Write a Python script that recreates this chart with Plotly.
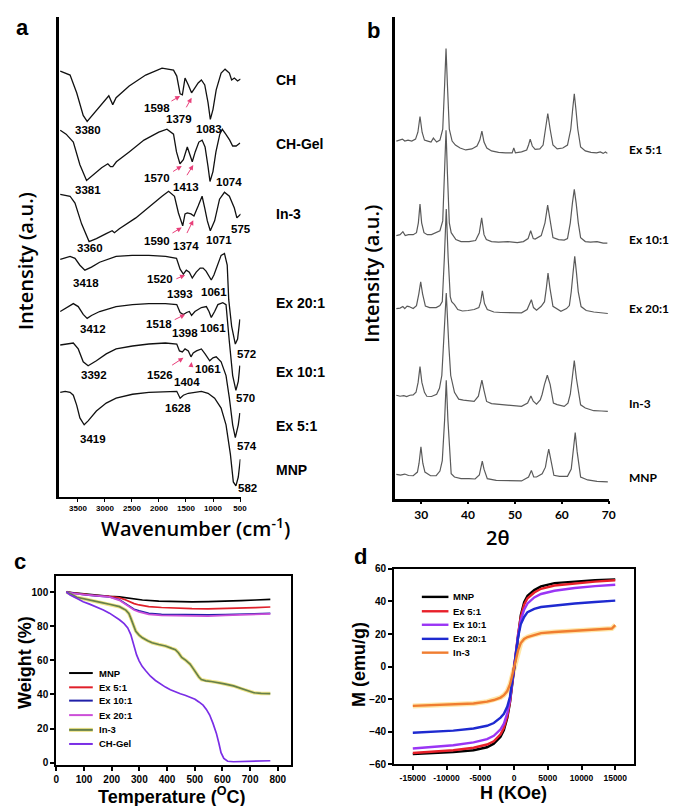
import plotly.graph_objects as go

# ---------------- DATA ----------------
# Panel a: FTIR spectra (wavenumber cm-1, stacked intensity a.u.)
ftir_names = ["CH", "CH-Gel", "In-3", "Ex 20:1", "Ex 10:1", "Ex 5:1", "MNP"]
ftir_CH_w = [3828, 3646, 3524, 3403, 3330, 3159, 3008, 2929, 2856, 2794, 2552, 2247, 1944, 1731, 1671, 1609, 1567, 1518, 1457, 1397, 1335, 1275, 1215, 1153, 1092, 1050, 1001, 941, 850, 777, 697, 655, 605, 545, 490]
ftir_CH_i = [432, 428, 410, 387, 381, 392, 402, 407, 398, 405, 417, 428, 435, 433, 427, 409, 408, 425, 418, 410, 415, 420, 423, 418, 400, 383, 393, 413, 430, 434, 430, 423, 425, 422, 424]
ftir_CHGel_w = [3828, 3719, 3586, 3464, 3341, 3208, 3062, 2947, 2898, 2856, 2789, 2552, 2278, 2004, 1853, 1731, 1676, 1612, 1549, 1476, 1430, 1384, 1330, 1262, 1202, 1147, 1092, 1056, 1001, 946, 874, 828, 764, 691, 636, 572, 499]
ftir_CHGel_i = [372, 368, 360, 337, 321, 327, 334, 338, 335, 335, 340, 350, 362, 370, 373, 368, 350, 338, 342, 355, 348, 340, 350, 360, 362, 355, 335, 320, 330, 350, 368, 373, 368, 362, 356, 356, 359]
ftir_In3_w = [3828, 3646, 3555, 3433, 3294, 3159, 2977, 2867, 2825, 2734, 2429, 2127, 1944, 1822, 1713, 1640, 1561, 1518, 1476, 1408, 1353, 1275, 1202, 1153, 1105, 1050, 970, 879, 788, 697, 605, 558, 485]
ftir_In3_i = [307, 305, 298, 277, 259, 262, 267, 270, 268, 272, 283, 297, 305, 310, 305, 288, 275, 287, 288, 287, 285, 295, 305, 293, 280, 270, 280, 302, 309, 305, 293, 283, 287]
ftir_Ex20_w = [3828, 3646, 3555, 3464, 3372, 3250, 3099, 2953, 2794, 2497, 2187, 1877, 1676, 1609, 1549, 1494, 1439, 1384, 1311, 1238, 1184, 1129, 1074, 1032, 983, 941, 850, 788, 737, 709, 655, 587, 545, 503]
ftir_Ex20_i = [241, 244, 242, 235, 230, 233, 238, 241, 244, 245, 245, 244, 242, 231, 226, 230, 228, 222, 228, 232, 232, 229, 223, 220, 225, 232, 245, 247, 235, 200, 173, 155, 160, 180]
ftir_Ex10_w = [3828, 3706, 3586, 3495, 3403, 3330, 3250, 3099, 2794, 2491, 2187, 1882, 1671, 1609, 1549, 1489, 1439, 1397, 1335, 1215, 1123, 1074, 1032, 970, 910, 819, 759, 697, 636, 576, 532, 503]
ftir_Ex10_i = [188, 192, 196, 193, 185, 181, 184, 188, 193, 195, 196, 196, 195, 187, 185, 187, 188, 184, 188, 192, 193, 188, 182, 188, 195, 197, 195, 157, 123, 108, 117, 133]
ftir_Ex5_w = [3828, 3706, 3586, 3495, 3403, 3312, 3159, 2977, 2794, 2491, 2187, 1882, 1671, 1621, 1567, 1518, 1457, 1408, 1366, 1306, 1215, 1147, 1061, 1001, 941, 850, 759, 697, 636, 587, 532, 503]
ftir_Ex5_i = [154, 155, 156, 150, 137, 133, 138, 145, 150, 153, 155, 156, 155, 148, 147, 150, 148, 142, 146, 148, 150, 145, 138, 141, 142, 137, 123, 100, 73, 60, 73, 85]
ftir_MNP_w = [3828, 3737, 3646, 3586, 3524, 3464, 3385, 3312, 3159, 2977, 2794, 2491, 2187, 1882, 1671, 1609, 1549, 1457, 1335, 1215, 1092, 970, 850, 759, 678, 624, 576, 532, 495]
ftir_MNP_i = [106, 107, 106, 103, 93, 80, 73, 77, 87, 95, 100, 104, 106, 107, 107, 100, 103, 105, 106, 107, 105, 100, 90, 73, 43, 15, 11, 20, 38]
ftir_ticks = [3500, 3000, 2500, 2000, 1500, 1000, 500]

# Panel b: XRD patterns (2theta, stacked intensity a.u.)
xrd_names = ["Ex 5:1", "Ex 10:1", "Ex 20:1", "In-3", "MNP"]
xrd_Ex5_t = [24.7, 25.4, 26.0, 26.5, 27.2, 28.0, 28.8, 29.3, 29.75, 30.2, 30.7, 31.4, 32.1, 32.6, 33.3, 34.0, 34.6, 35.0, 35.3, 35.6, 36.0, 36.6, 37.3, 38.3, 39.5, 40.8, 41.9, 42.5, 42.95, 43.4, 44.0, 45.0, 46.5, 48.0, 49.4, 49.75, 50.1, 51.4, 52.5, 52.9, 53.25, 53.7, 54.3, 55.3, 56.0, 56.5, 57.0, 57.5, 58.1, 59.0, 60.2, 61.2, 61.9, 62.3, 62.65, 63.0, 63.4, 64.0, 65.0, 66.2, 67.4, 68.2, 68.8, 69.3, 69.7]
xrd_Ex5_i = [363, 364, 365, 363, 364, 363, 365, 372, 388, 372, 364, 363, 362, 366, 362, 364, 375, 420, 457, 420, 375, 363, 359, 356, 354, 355, 358, 364, 373, 362, 356, 353, 351.5, 351, 351, 356, 351, 352, 354, 359, 365, 358, 354.5, 355, 359, 375, 391, 375, 359, 355, 356, 359, 375, 395, 411, 395, 375, 357, 353, 351.5, 351, 352, 350.5, 352, 350.5]
xrd_Ex10_t = [24.7, 25.5, 26.1, 26.6, 27.3, 28.3, 29.0, 29.4, 29.75, 30.1, 30.6, 31.3, 32.2, 33.2, 34.0, 34.6, 35.0, 35.3, 35.6, 36.0, 36.4, 37.4, 38.5, 40.2, 41.6, 42.4, 42.9, 43.4, 43.9, 45.0, 46.5, 48.5, 50.5, 51.8, 52.8, 53.35, 53.9, 54.3, 55.6, 56.4, 56.97, 57.5, 58.1, 59.3, 60.5, 61.2, 61.8, 62.25, 62.65, 63.05, 63.5, 64.0, 65.0, 66.1, 67.5, 68.8, 69.7]
xrd_Ex10_i = [267, 268, 271, 267, 268, 268, 270, 280, 299, 280, 270, 268, 268, 270, 272, 282, 330, 374, 330, 280, 270, 263, 261, 261, 262, 270, 285, 268, 263, 261, 260.5, 261, 260, 261, 264, 272, 264, 263.5, 267, 280, 298, 280, 265, 263, 262.5, 264, 280, 300, 314, 300, 280, 265, 261, 260.5, 261, 259.5, 259.5]
xrd_Ex20_t = [24.7, 25.5, 26.1, 26.5, 27.0, 27.4, 28.3, 29.0, 29.5, 29.9, 30.3, 30.9, 31.8, 33.2, 34.0, 34.5, 34.95, 35.35, 35.75, 36.2, 36.5, 37.1, 37.8, 38.8, 40.0, 41.3, 42.3, 42.7, 43.05, 43.5, 44.1, 45.5, 47.0, 49.0, 51.4, 52.6, 53.1, 53.5, 53.95, 54.6, 55.6, 56.3, 56.7, 57.05, 57.45, 58.1, 59.8, 61.0, 61.6, 62.0, 62.4, 62.75, 63.1, 63.5, 64.1, 65.2, 66.8, 68.0, 69.0, 69.8]
xrd_Ex20_i = [193, 193.5, 195, 193, 195.5, 195, 193, 196, 208, 220, 208, 195.5, 194, 194, 196, 200, 245, 294, 245, 205, 200, 197, 192, 190.5, 191, 192, 194, 200, 211, 198, 192, 189.5, 189, 189, 188.7, 192, 198, 202, 194, 191.3, 195.3, 200, 214, 229, 214, 195.3, 190.3, 193, 196, 210, 230, 246, 230, 210, 195, 191, 189.5, 189, 188.7, 188]
xrd_In3_t = [24.7, 25.5, 26.3, 26.9, 27.6, 28.3, 28.9, 29.35, 29.75, 30.15, 30.7, 31.2, 32.2, 33.3, 33.9, 34.4, 34.8, 35.35, 35.9, 36.3, 37.1, 38.0, 39.0, 40.2, 41.3, 42.2, 42.5, 42.95, 43.4, 43.95, 45.0, 46.5, 48.5, 51.4, 52.7, 53.4, 53.9, 54.6, 55.4, 55.8, 56.3, 56.9, 57.5, 58.2, 59.0, 60.5, 61.3, 61.8, 62.2, 62.65, 63.1, 63.6, 64.0, 65.0, 66.8, 68.5, 69.8]
xrd_In3_i = [105, 104, 104.5, 103.7, 105, 105.3, 108, 118, 134, 118, 108, 104, 103.7, 106, 112, 125, 160, 208.7, 155, 125, 108, 101, 100, 99.5, 98.7, 104, 110, 120.3, 110, 98.7, 96.5, 95.7, 94.5, 93.7, 97, 104.3, 99, 96, 100.3, 106, 116, 125.3, 116, 97, 95.5, 93.7, 97, 106, 122, 140.3, 122, 106, 95.3, 92, 89.3, 89, 88.7]
xrd_MNP_t = [24.7, 25.6, 26.5, 27.3, 28.3, 29.2, 29.55, 29.95, 30.35, 30.8, 32.0, 33.2, 34.0, 34.5, 35.0, 35.35, 35.7, 36.0, 36.4, 37.1, 38.5, 40.2, 41.5, 42.4, 42.7, 43.03, 43.4, 44.1, 46.0, 48.5, 51.4, 52.9, 53.5, 54.0, 54.6, 55.8, 56.5, 56.85, 57.2, 57.55, 58.3, 59.5, 61.2, 62.0, 62.45, 62.85, 63.25, 63.7, 64.0, 65.5, 67.5, 69.8]
xrd_MNP_i = [24.7, 24, 25, 23.5, 23.3, 27, 36, 52.7, 36, 27, 23.3, 23.3, 28, 38.7, 80, 120.3, 80, 52, 25.3, 22, 20.3, 20.3, 20, 24, 30, 38, 30, 20.3, 18.5, 18, 18, 22, 28.7, 22, 22, 25.3, 32, 42, 50.3, 42, 23.7, 22.7, 22.7, 30, 48, 67, 48, 30, 22, 19, 17.5, 17]
xrd_ticks = [30, 40, 50, 60, 70]

# Panel c: TGA (temperature C, weight %)
tga_names = ["MNP", "Ex 5:1", "Ex 10:1", "Ex 20:1", "In-3", "CH-Gel"]
tga_MNP_T = [36, 60, 100, 133, 191, 228, 263, 311, 370, 430, 490, 548, 610, 667, 720, 773]
tga_MNP_W = [100, 99.6, 98.8, 98.3, 97.6, 97.2, 96.5, 95.4, 94.8, 94.4, 94.3, 94.4, 94.6, 95, 95.4, 95.8]
tga_Ex_T = [36, 60, 100, 133, 191, 228, 245, 263, 281, 299, 334, 380, 430, 490, 548, 610, 667, 720, 773]
tga_Ex5_W = [100, 99.5, 98.7, 98.2, 97.5, 96.7, 95.8, 94.5, 93.3, 92.5, 91.5, 91, 90.6, 90.3, 90.2, 90.3, 90.6, 90.9, 91.3]
tga_Ex10_W = [100, 99.3, 98.5, 98.0, 97.3, 95.6, 93.8, 91.6, 90, 89, 87.6, 87, 86.8, 86.8, 86.7, 86.8, 87.1, 87.3, 87.6]
tga_Ex20_W = [100, 99.3, 98.6, 98.0, 97.2, 95.2, 93.3, 91.2, 89.5, 88.4, 87.0, 86.4, 86.2, 85.9, 86.0, 86.4, 86.8, 87.1, 87.3]
tga_In3_T = [36, 50, 74, 100, 133, 160, 192, 228, 251, 262, 269, 278, 287, 299, 311, 330, 346, 370, 394, 417, 430, 441, 453, 468, 483, 495, 506, 515, 524, 540, 560, 585, 607, 640, 667, 690, 714, 740, 773]
tga_In3_W = [100, 99.2, 97, 96, 94.8, 94, 92.9, 91.5, 89.5, 87.5, 84.8, 80.5, 77.1, 74.8, 73.2, 71.5, 70.3, 69.3, 68.4, 67, 66.3, 64.5, 61.7, 60, 57.8, 55, 52, 50.2, 48.7, 48, 47.6, 47, 46.2, 45, 43.4, 42.2, 41, 40.6, 40.5]
tga_CHGel_T = [36, 50, 75, 97, 120, 145, 170, 192, 210, 228, 245, 258, 269, 275, 281, 290, 299, 310, 323, 340, 358, 375, 394, 412, 430, 448, 465, 483, 501, 515, 530, 542, 554, 566, 578, 587, 595, 605, 619, 640, 667, 720, 773]
tga_CHGel_W = [100, 98.3, 96.3, 94.4, 93, 91.5, 89.6, 87.7, 85.8, 83.8, 81.5, 79, 75.1, 71.5, 67.4, 63.2, 59.7, 56.5, 53.9, 50.7, 48.2, 46.2, 44.3, 42.8, 41.4, 40.4, 39.5, 38.4, 37.2, 35.6, 33.7, 31.2, 27.9, 23, 17.3, 11.5, 5.8, 2.5, 0.8, 0.5, 0.6, 0.8, 1.1]

# Panel d: VSM magnetisation (H, M emu/g)
vsm_names = ["MNP", "Ex 5:1", "Ex 10:1", "Ex 20:1", "In-3"]
vsm_H = [-15000, -12000, -9000, -6000, -4000, -3000, -2000, -1500, -1000, -600, -300, 0, 300, 600, 1000, 1500, 2000, 3000, 4000, 6000, 9000, 12000, 15000]
vsm_MNP_M = [-53.7, -53.1, -52.5, -51.3, -49.5, -47.3, -43, -39, -31.5, -22, -12, -1, 10, 20.5, 31.5, 39.5, 43.5, 47, 49.3, 51.3, 52.4, 53.1, 53.6]
vsm_Ex5_M = [-53, -52.3, -51.3, -49.8, -47.8, -45.8, -41.5, -37.5, -30.5, -21.5, -12, -1, 9.5, 20, 30.5, 38, 42, 45.5, 47.8, 49.8, 51.2, 52.2, 53]
vsm_Ex10_M = [-50.3, -49.4, -48.3, -46.5, -44.5, -42.5, -38.5, -35, -28.5, -20.5, -11.5, -1, 9, 19, 28.5, 35, 38.8, 42.5, 44.6, 46.6, 48.3, 49.4, 50.3]
vsm_Ex20_M = [-40.6, -40.1, -39.3, -38, -36.3, -34.6, -31.3, -29, -24.5, -18.5, -10.5, -1, 9, 18, 26, 30.5, 33.5, 35.5, 36.6, 37.5, 38.8, 39.7, 40.5]
vsm_In3_H = [-15000, -12000, -9000, -6000, -4000, -3000, -2000, -1500, -1000, -600, -300, 0, 300, 600, 1000, 1500, 2000, 3000, 4000, 6000, 9000, 12000, 14500, 15000]
vsm_In3_M = [-24.1, -23.7, -23.3, -22.6, -21.5, -20.5, -19, -17.5, -15, -11, -6, -0.8, 5, 10, 14.5, 17, 18.2, 19.6, 20.6, 21.3, 22.1, 22.8, 23.4, 25.5]
vsm_ticks = [-15000, -10000, -5000, 0, 5000, 10000, 15000]
vsm_ticktext = ["-15000", "-10000", "-5000", "0", "5000", "10000", "15000"]

# ---------------- LAYOUT HELPERS ----------------
FW, FH = 677, 806
def xp(px):
    return px / FW
def yp(py):
    return 1 - py / FH

ARIAL = "Liberation Sans, Arial, sans-serif"
SEMI = "Open Sans, sans-serif"
CAL = "Lato, sans-serif"

fig = go.Figure()

# Panel a
ftir_series = [(ftir_CH_w, ftir_CH_i), (ftir_CHGel_w, ftir_CHGel_i), (ftir_In3_w, ftir_In3_i),
               (ftir_Ex20_w, ftir_Ex20_i), (ftir_Ex10_w, ftir_Ex10_i), (ftir_Ex5_w, ftir_Ex5_i),
               (ftir_MNP_w, ftir_MNP_i)]
for (w, i), nm in zip(ftir_series, ftir_names):
    fig.add_trace(go.Scatter(x=w, y=i, mode="lines", name=nm, line=dict(color="#111111", width=1.3),
                             xaxis="x", yaxis="y", hoverinfo="skip"))

# Panel b
xrd_series = [(xrd_Ex5_t, xrd_Ex5_i), (xrd_Ex10_t, xrd_Ex10_i), (xrd_Ex20_t, xrd_Ex20_i),
              (xrd_In3_t, xrd_In3_i), (xrd_MNP_t, xrd_MNP_i)]
for (t, i), nm in zip(xrd_series, xrd_names):
    fig.add_trace(go.Scatter(x=t, y=i, mode="lines", name=nm, line=dict(color="#5a5a5a", width=1.2),
                             xaxis="x2", yaxis="y2", hoverinfo="skip"))

# Panel c
tga_colors = ["#000000", "#e0202a", "#2020a8", "#cc4fd8", "#66804a", "#7a2ee6"]
tga_series = [(tga_MNP_T, tga_MNP_W), (tga_Ex_T, tga_Ex5_W), (tga_Ex_T, tga_Ex10_W),
              (tga_Ex_T, tga_Ex20_W), (tga_In3_T, tga_In3_W), (tga_CHGel_T, tga_CHGel_W)]
fig.add_trace(go.Scatter(x=tga_In3_T, y=tga_In3_W, mode="lines", line=dict(color="#efe48a", width=3.5),
                         xaxis="x3", yaxis="y3", hoverinfo="skip"))
for (t, wgt), nm, c in zip(tga_series, tga_names, tga_colors):
    fig.add_trace(go.Scatter(x=t, y=wgt, mode="lines", name=nm, line=dict(color=c, width=1.7),
                             xaxis="x3", yaxis="y3", hoverinfo="skip"))

# Panel d
vsm_colors = ["#000000", "#e8202a", "#9a35f5", "#1e2ad0", "#f07d30"]
vsm_series = [(vsm_H, vsm_MNP_M), (vsm_H, vsm_Ex5_M), (vsm_H, vsm_Ex10_M), (vsm_H, vsm_Ex20_M),
              (vsm_In3_H, vsm_In3_M)]
fig.add_trace(go.Scatter(x=vsm_In3_H, y=vsm_In3_M, mode="lines", line=dict(color="#ffe6a8", width=5),
                         xaxis="x4", yaxis="y4", hoverinfo="skip"))
for (h, m), nm, c in zip(vsm_series, vsm_names, vsm_colors):
    fig.add_trace(go.Scatter(x=h, y=m, mode="lines", name=nm, line=dict(color=c, width=2.4),
                             xaxis="x4", yaxis="y4", hoverinfo="skip"))

# ---------------- ANNOTATIONS ----------------
ann = []
def txt(px, py, text, size, family=ARIAL, weight="bold", xanchor="center", angle=0):
    ann.append(dict(x=xp(px), y=yp(py), xref="paper", yref="paper", text=text, showarrow=False,
                    xanchor=xanchor, yanchor="middle", textangle=angle,
                    font=dict(size=size, family=family, weight=weight, color="black")))

def arrow(tx, ty, hx, hy):
    ann.append(dict(x=xp(hx), y=yp(hy), xref="paper", yref="paper", ax=tx - hx, ay=ty - hy,
                    axref="pixel", ayref="pixel", showarrow=True, arrowhead=2, arrowsize=1,
                    arrowwidth=1, arrowcolor="#e8407a", text=" ", standoff=0))

# panel letters
txt(12, 14, "a", 22)
txt(368, 17, "b", 22)
txt(9, 556, "c", 22)
txt(355, 551, "d", 22)

# panel a peak labels
peak_labels = [
    ("3380", 78.3, 117.7), ("1598", 147.7, 95), ("1379", 170.7, 106.7), ("1083", 200.5, 116.7),
    ("3381", 78.3, 178.3), ("1570", 148.3, 166.7), ("1413", 177.3, 176), ("1074", 221.7, 171),
    ("3360", 80, 237.3), ("1590", 147.7, 230), ("1374", 177.3, 235), ("1071", 210.7, 229.3), ("575", 233.3, 218.3),
    ("3418", 76, 272.7), ("1520", 151.7, 269), ("1393", 171.7, 284.3), ("1061", 206, 282.7), ("572", 239, 345),
    ("3412", 83.3, 319.3), ("1518", 150.7, 315), ("1398", 176.7, 324), ("1061", 205, 318.3), ("570", 238.3, 389.3),
    ("3392", 84.3, 366.7), ("1526", 151.7, 366), ("1404", 178.3, 373.3), ("1061", 200, 360), ("574", 239.3, 438.3),
    ("3419", 83.3, 431), ("1628", 169.3, 400), ("582", 240, 480.7),
]
for t, x, y in peak_labels:
    txt(x, y, t, 11.5)

arrows_a = [
    (160, 90, 171.7, 83.3), (175, 100, 183.3, 85),
    (161.7, 161.7, 173.3, 154.3), (175.7, 168.3, 185, 153.3),
    (161, 224, 173.3, 216.7), (175.7, 228.3, 185, 209.3),
    (165, 270, 176.7, 265), (183.3, 278.3, 185, 270),
    (163.3, 311.7, 176.7, 305), (181.7, 316.7, 182.7, 308.3),
    (160.7, 358.3, 175, 349), (181.7, 365, 183.3, 353.3),
]
for a in arrows_a:
    arrow(*a)

# panel a sample names
for nm, y in zip(ftir_names, [66.7, 131.7, 203.3, 293.3, 363.3, 418.3, 463.3]):
    txt(267, y, nm, 14, xanchor="left")
# panel b sample names
for nm, y in zip(xrd_names, [137.5, 229, 299.3, 395, 471]):
    txt(625, y, nm, 12, family=CAL, xanchor="left")

# axis titles
txt(14, 251, "Intensity (a.u.)", 20, family=SEMI, weight=600, angle=-90)
txt(187, 521, "Wavenumber (cm<sup>-1</sup>)", 20, family=SEMI, weight=600)
txt(365, 264, "Intensity (a.u.)", 20, family=SEMI, weight=600, angle=-90)
txt(494, 531, "2θ", 20, family=SEMI, weight=600)
txt(14, 658, "Weight (%)", 18, angle=-90)
txt(163.5, 793, "Temperature (<sup>O</sup>C)", 18)
txt(353, 660, "M (emu/g)", 18, angle=-90)
txt(510, 791, "H (KOe)", 18)

# manual legends
shapes = []
for nm, c, y in zip(tga_names, tga_colors, [669, 683.5, 697, 711.7, 726.7, 741]):
    if nm == "In-3":
        shapes.append(dict(type="line", xref="paper", yref="paper", x0=xp(59), x1=xp(83), y0=yp(y), y1=yp(y),
                           line=dict(color="#efe48a", width=4)))
    shapes.append(dict(type="line", xref="paper", yref="paper", x0=xp(59), x1=xp(83), y0=yp(y), y1=yp(y),
                       line=dict(color=c, width=2)))
    txt(87, y, nm, 9.5, xanchor="left")
for nm, c, y in zip(vsm_names, vsm_colors, [591.7, 606.3, 620, 634.3, 648.3]):
    shapes.append(dict(type="line", xref="paper", yref="paper", x0=xp(417), x1=xp(444), y0=yp(y), y1=yp(y),
                       line=dict(color=c, width=2.4)))
    txt(447, y, nm, 9.5, xanchor="left")

# ---------------- AXES ----------------
tf = dict(family=ARIAL, weight="bold", color="black")
base = dict(showgrid=False, zeroline=False, linecolor="black", tickcolor="black", showline=True)

fig.update_layout(
    width=FW, height=FH, margin=dict(l=0, r=0, t=0, b=0),
    paper_bgcolor="white", plot_bgcolor="white", showlegend=False,
    annotations=ann, shapes=shapes,
    xaxis=dict(base, domain=[xp(49), xp(233)], range=[3846, 490], anchor="y", linewidth=2,
               tickvals=ftir_ticks, ticks="outside", ticklen=3, tickwidth=1, tickfont=dict(tf, size=8)),
    yaxis=dict(base, domain=[yp(490), yp(3)], range=[0, 487], anchor="x", linewidth=2.5,
               showticklabels=False, ticks=""),
    xaxis2=dict(base, domain=[xp(390), xp(607)], range=[24.47, 70.06], anchor="y2", linewidth=2.5,
                tickvals=xrd_ticks, ticks="outside", ticklen=3, tickwidth=1.5,
                tickfont=dict(family=CAL, weight="bold", color="black", size=12)),
    yaxis2=dict(base, domain=[yp(492), yp(3)], range=[0, 489], anchor="x2", linewidth=3,
                showticklabels=False, ticks=""),
    xaxis3=dict(base, domain=[xp(46), xp(284)], range=[0, 847], anchor="y3", linewidth=2.2, mirror=True,
                tickvals=[0, 100, 200, 300, 400, 500, 600, 700, 800], ticks="outside", ticklen=4, tickwidth=1.5,
                tickfont=dict(tf, size=10)),
    yaxis3=dict(base, domain=[yp(762), yp(571)], range=[-1.2, 109.2], anchor="x3", linewidth=2.2, mirror=True,
                tickvals=[0, 20, 40, 60, 80, 100], ticks="outside", ticklen=4, tickwidth=1.5,
                tickfont=dict(tf, size=10)),
    xaxis4=dict(base, domain=[xp(389), xp(632)], range=[-17750, 17730], anchor="y4", linewidth=2.2, mirror=True,
                tickvals=vsm_ticks, ticktext=vsm_ticktext, ticks="outside", ticklen=4, tickwidth=1.5,
                tickfont=dict(tf, size=8.5)),
    yaxis4=dict(base, domain=[yp(761.7), yp(563.3)], range=[-60, 60], anchor="x4", linewidth=2.2, mirror=True,
                tickvals=[-60, -40, -20, 0, 20, 40, 60], ticks="outside", ticklen=4, tickwidth=1.5,
                tickfont=dict(tf, size=10)),
)

fig.write_html("out.html")
